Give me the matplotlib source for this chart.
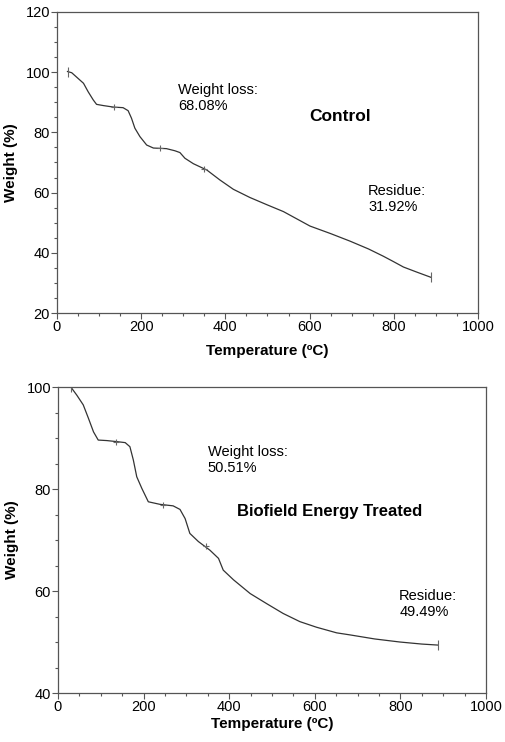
import matplotlib.pyplot as plt
from matplotlib.ticker import MultipleLocator

plt.rcParams['font.family'] = ['Liberation Sans', 'DejaVu Sans']

# Control sample TGA curve
ctrl_temp = [25, 35, 47, 63, 74, 86, 94, 110, 134, 157, 169, 177, 185, 197, 213, 229, 260, 280,
             292, 304, 324, 356, 387, 419, 458, 500, 538, 601, 650, 696, 740, 775, 798, 823, 855, 888]
ctrl_wt = [100.2, 99.8, 98.3, 96.3, 93.5, 90.8, 89.3, 88.9, 88.4, 88.2, 87.2, 84.7, 81.4, 78.6,
           75.8, 74.8, 74.6, 73.9, 73.3, 71.4, 69.6, 67.5, 64.2, 61.1, 58.4, 55.9, 53.7, 48.9, 46.4,
           43.9, 41.3, 38.9, 37.2, 35.3, 33.6, 31.9]

# Biofield treated sample TGA curve
trt_temp = [30, 44, 59, 71, 83, 94, 114, 137, 157, 168, 176, 184, 196, 211, 238, 269, 285, 297,
            308, 328, 355, 375, 386, 410, 449, 488, 526, 565, 604, 651, 682, 740, 799, 850, 888]
trt_wt = [100, 98.4, 96.5, 93.9, 91.2, 89.6, 89.5, 89.3, 89.1, 88.3, 85.7, 82.4, 80.1, 77.5,
          77.0, 76.7, 76.0, 74.2, 71.3, 69.7, 68.0, 66.4, 64.1, 62.2, 59.5, 57.5, 55.6, 54.0, 52.9,
          51.8, 51.4, 50.6, 50.0, 49.6, 49.4]

ctrl_marks_t = [135, 245, 350]
ctrl_marks_w = [88.5, 74.8, 68.0]
trt_marks_t = [135, 245, 345]
trt_marks_w = [89.2, 76.8, 68.8]

line_col = '#333333'
frame_col = '#555555'

fig = plt.figure(figsize=(5.06, 7.42), dpi=100)
ax1 = fig.add_axes([0.1126, 0.578, 0.832, 0.406])
ax2 = fig.add_axes([0.1146, 0.066, 0.846, 0.4124])


def style_axes(ax, ymin, ymax, xpad):
    ax.set_xlim(0, 1000)
    ax.set_ylim(ymin, ymax)
    ax.xaxis.set_major_locator(MultipleLocator(200))
    ax.xaxis.set_minor_locator(MultipleLocator(50))
    ax.yaxis.set_major_locator(MultipleLocator(20))
    ax.yaxis.set_minor_locator(MultipleLocator(5))
    ax.tick_params(which='major', length=4, width=0.8, color=frame_col, labelsize=10.5, pad=1)
    ax.tick_params(which='minor', length=2.5, width=0.8, color=frame_col)
    for sp in ax.spines.values():
        sp.set_color(frame_col)
        sp.set_linewidth(0.9)
    ax.set_xlabel('Temperature (ºC)', fontsize=11, fontweight='bold', labelpad=xpad)
    ax.set_ylabel('Weight (%)', fontsize=11, fontweight='bold', labelpad=5)


# top panel - control
ax1.plot(ctrl_temp, ctrl_wt, color=line_col, lw=0.9)
ax1.plot([ctrl_temp[0], ctrl_temp[-1]], [ctrl_wt[0], ctrl_wt[-1]], ls='none',
         marker='|', ms=7, color='#666666', mew=0.8)
ax1.plot(ctrl_marks_t, ctrl_marks_w, ls='none', marker='+', ms=5, color='#666666', mew=0.8)
style_axes(ax1, 20, 120, 7)
ax1.text(287, 96.5, 'Weight loss:\n68.08%', fontsize=10.5, va='top')
ax1.text(672, 85.4, 'Control', fontsize=12.5, fontweight='bold', ha='center', va='center')
ax1.text(739, 63, 'Residue:\n31.92%', fontsize=10.5, va='top')

# bottom panel - treated
ax2.plot(trt_temp, trt_wt, color=line_col, lw=0.9)
ax2.plot([trt_temp[0], trt_temp[-1]], [trt_wt[0], trt_wt[-1]], ls='none',
         marker='|', ms=7, color='#666666', mew=0.8)
ax2.plot(trt_marks_t, trt_marks_w, ls='none', marker='+', ms=5, color='#666666', mew=0.8)
style_axes(ax2, 40, 100, 2)
ax2.text(350, 88.6, 'Weight loss:\n50.51%', fontsize=10.5, va='top')
ax2.text(418, 75.5, 'Biofield Energy Treated', fontsize=12, fontweight='bold', va='center')
ax2.text(797, 60.4, 'Residue:\n49.49%', fontsize=10.5, va='top')

fig.savefig('out.png', dpi=100)
